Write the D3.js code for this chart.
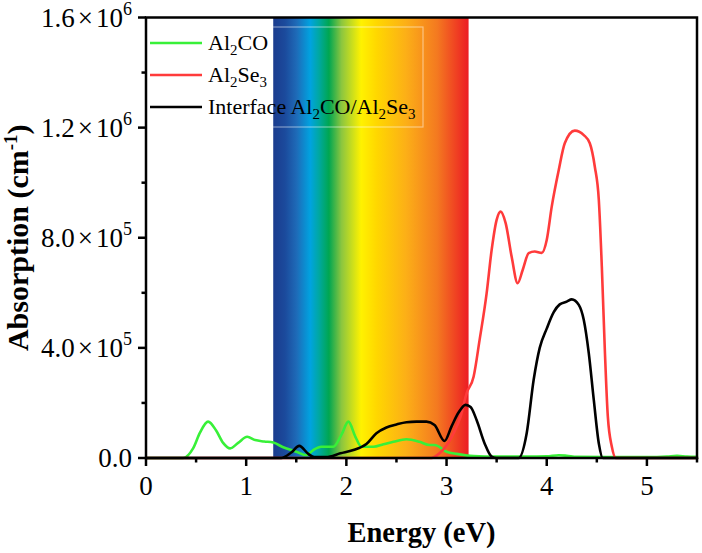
<!DOCTYPE html>
<html><head><meta charset="utf-8">
<script src="https://cdn.jsdelivr.net/npm/d3@7"></script>
<style>body{margin:0;background:#fff} svg{display:block}</style>
</head><body>
<svg id="c" width="702" height="553"></svg>
<script>
// ---- data (absorption in cm^-1, energy in eV) ----
const al2coEnergy = [0, 0.30, 0.37, 0.47, 0.54, 0.62, 0.70, 0.77, 0.84, 0.92, 1.01, 1.09, 1.18, 1.27, 1.37, 1.50, 1.60, 1.67, 1.75, 1.87, 1.95, 2.02, 2.09, 2.15, 2.27, 2.37, 2.47, 2.60, 2.73, 2.83, 2.88, 3.00, 3.10, 3.27, 3.50, 3.80, 4.00, 4.12, 4.20, 4.30, 4.60, 5.00, 5.20, 5.30, 5.40, 5.50];
const al2coAbs = [0, 0, 0, 0.35e5, 0.93e5, 1.32e5, 1.0e5, 0.55e5, 0.35e5, 0.55e5, 0.77e5, 0.65e5, 0.60e5, 0.56e5, 0.39e5, 0.23e5, 0.10e5, 0.29e5, 0.41e5, 0.41e5, 0.84e5, 1.32e5, 0.77e5, 0.41e5, 0.41e5, 0.50e5, 0.59e5, 0.68e5, 0.59e5, 0.47e5, 0.47e5, 0.23e5, 0.15e5, 0.07e5, 0.05e5, 0.05e5, 0.06e5, 0.10e5, 0.08e5, 0.04e5, 0.03e5, 0.03e5, 0.05e5, 0.08e5, 0.05e5, 0.04e5];

const al2se3Energy = [0, 2.85, 2.93, 3.00, 3.07, 3.14, 3.20, 3.27, 3.33, 3.40, 3.45, 3.50, 3.54, 3.59, 3.65, 3.71, 3.76, 3.82, 3.88, 3.95, 4.00, 4.05, 4.12, 4.18, 4.28, 4.37, 4.43, 4.48, 4.52, 4.55, 4.58, 4.61, 4.65, 4.69, 5.50];
const al2se3Abs = [0, 0, 0.17e5, 0.45e5, 0.90e5, 1.50e5, 2.35e5, 2.95e5, 4.29e5, 5.98e5, 7.55e5, 8.65e5, 8.95e5, 8.53e5, 7.31e5, 6.35e5, 6.83e5, 7.44e5, 7.50e5, 7.45e5, 7.92e5, 9.13e5, 10.46e5, 11.43e5, 11.89e5, 11.73e5, 11.43e5, 10.58e5, 9.37e5, 6.95e5, 3.92e5, 1.50e5, 0.41e5, 0, 0];

const interfaceEnergy = [0, 1.35, 1.45, 1.53, 1.62, 1.68, 1.80, 1.94, 2.07, 2.20, 2.30, 2.40, 2.50, 2.60, 2.70, 2.80, 2.88, 2.98, 3.05, 3.12, 3.19, 3.24, 3.30, 3.38, 3.45, 3.50, 3.72, 3.80, 3.87, 3.93, 4.00, 4.07, 4.13, 4.20, 4.25, 4.32, 4.37, 4.42, 4.47, 4.52, 4.56, 5.50];
const interfaceAbs = [0, 0, 0.20e5, 0.44e5, 0.15e5, 0.03e5, 0.03e5, 0.17e5, 0.29e5, 0.51e5, 0.90e5, 1.11e5, 1.22e5, 1.30e5, 1.32e5, 1.32e5, 1.20e5, 0.62e5, 1.15e5, 1.65e5, 1.93e5, 1.85e5, 1.38e5, 0.53e5, 0.05e5, 0, 0, 0.90e5, 2.85e5, 4.00e5, 4.70e5, 5.30e5, 5.58e5, 5.68e5, 5.76e5, 5.56e5, 5.01e5, 3.80e5, 2.10e5, 0.53e5, 0, 0];

const seriesNames = ["Al2CO", "Al2Se3", "Interface Al2CO/Al2Se3"];
const seriesColors = ["#38f038", "#ff3b3b", "#000000"];

const xTicks = [0, 1, 2, 3, 4, 5];
const xMinorTicks = [0.5, 1.5, 2.5, 3.5, 4.5, 5.5];
const yTicks = [0, 4e5, 8e5, 1.2e6, 1.6e6];
const yMinorTicks = [2e5, 6e5, 1.0e6, 1.4e6];
const yTickMantissa = ["0.0", "4.0", "8.0", "1.2", "1.6"];
const yTickExponent = ["", "5", "5", "6", "6"];

const spectrumRange = [1.27, 3.22];
const spectrumStops = [
  [0.00, "#1b3c8e"], [0.06, "#1b4a9c"], [0.12, "#1e6bb8"], [0.19, "#00a3e0"],
  [0.235, "#00a8a0"], [0.285, "#00a651"], [0.35, "#8cc63f"], [0.45, "#fff200"],
  [0.53, "#ffd700"], [0.68, "#fcaf17"], [0.84, "#f47920"], [1.00, "#ec1c24"]
];

// ---- layout ----
const svg = d3.select("#c");
const L = 146, R = 697, T = 17.5, B = 458;
const x = d3.scaleLinear().domain([0, 5.5]).range([L, R]);
const y = d3.scaleLinear().domain([0, 1.6e6]).range([B, T]);
const serif = "'Liberation Serif','Times New Roman',Times,serif";

// spectrum gradient
const defs = svg.append("defs");
const grad = defs.append("linearGradient").attr("id", "spec")
  .attr("x1", "0%").attr("x2", "100%").attr("y1", "0%").attr("y2", "0%");
spectrumStops.forEach(s => grad.append("stop").attr("offset", s[0]).attr("stop-color", s[1]));
svg.append("rect").attr("x", x(spectrumRange[0])).attr("y", T)
  .attr("width", x(spectrumRange[1]) - x(spectrumRange[0])).attr("height", B - T)
  .attr("fill", "url(#spec)");

// legend frame (faint)
svg.append("rect").attr("x", 149).attr("y", 27).attr("width", 274).attr("height", 100)
  .attr("fill", "none").attr("stroke", "rgba(255,255,255,0.45)").attr("stroke-width", 1.2);

// lines
const line = d3.line().x(d => x(d[0])).y(d => y(d[1])).curve(d3.curveMonotoneX);
const series = [
  d3.zip(al2coEnergy, al2coAbs),
  d3.zip(al2se3Energy, al2se3Abs),
  d3.zip(interfaceEnergy, interfaceAbs)
];
series.forEach((s, i) => {
  svg.append("path").attr("d", line(s)).attr("fill", "none")
    .attr("stroke", seriesColors[i]).attr("stroke-width", 2.6)
    .attr("stroke-linejoin", "round").attr("stroke-linecap", "round");
});

// frame
svg.append("rect").attr("x", L).attr("y", T).attr("width", R - L).attr("height", B - T)
  .attr("fill", "none").attr("stroke", "#000").attr("stroke-width", 2.5);

// x ticks
const ax = svg.append("g");
xTicks.forEach(v => ax.append("line").attr("x1", x(v)).attr("x2", x(v)).attr("y1", B).attr("y2", B + 8)
  .attr("stroke", "#000").attr("stroke-width", 2.5));
xMinorTicks.forEach(v => ax.append("line").attr("x1", x(v)).attr("x2", x(v)).attr("y1", B).attr("y2", B + 4.5)
  .attr("stroke", "#000").attr("stroke-width", 2.5));
xTicks.forEach(v => ax.append("text").attr("x", x(v)).attr("y", 494.5).attr("text-anchor", "middle")
  .attr("font-family", serif).attr("font-size", 27).text(v));

// y ticks
yTicks.forEach(v => ax.append("line").attr("x1", L - 8).attr("x2", L).attr("y1", y(v)).attr("y2", y(v))
  .attr("stroke", "#000").attr("stroke-width", 2.5));
yMinorTicks.forEach(v => ax.append("line").attr("x1", L - 4.5).attr("x2", L).attr("y1", y(v)).attr("y2", y(v))
  .attr("stroke", "#000").attr("stroke-width", 2.5));
yTicks.forEach((v, i) => {
  const t = ax.append("text").attr("x", 132).attr("y", y(v) + 9).attr("text-anchor", "end")
    .attr("font-family", serif).attr("font-size", 27);
  t.append("tspan").text(yTickMantissa[i]);
  if (yTickExponent[i]) {
    t.append("tspan").attr("dx", 3).text("×");
    t.append("tspan").attr("dx", 3).text("10");
    t.append("tspan").attr("dy", -12).attr("font-size", 18).text(yTickExponent[i]);
  }
});

// axis titles
svg.append("text").attr("x", (L + R) / 2).attr("y", 541.5).attr("text-anchor", "middle")
  .attr("font-family", serif).attr("font-weight", "bold").attr("font-size", 28.5).text("Energy (eV)");
const yt = svg.append("text").attr("transform", `translate(28,${(T + B) / 2}) rotate(-90)`)
  .attr("text-anchor", "middle").attr("font-family", serif).attr("font-weight", "bold").attr("font-size", 30);
yt.append("tspan").text("Absorption (cm");
yt.append("tspan").attr("dy", -11).attr("font-size", 19).text("-1");
yt.append("tspan").attr("dy", 11).text(")");

// legend
function rich(t, str, size) {
  const parts = str.split(/(\d)/).filter(p => p.length);
  let sub = false;
  parts.forEach(p => {
    if (/^\d$/.test(p)) {
      t.append("tspan").attr("dy", sub ? 0 : 5).attr("font-size", size * 0.68).text(p);
      sub = true;
    } else {
      t.append("tspan").attr("dy", sub ? -5 : 0).text(p);
      sub = false;
    }
  });
}
const legY = [43, 75, 107];
seriesNames.forEach((n, i) => {
  svg.append("line").attr("x1", 150).attr("x2", 202).attr("y1", legY[i]).attr("y2", legY[i])
    .attr("stroke", seriesColors[i]).attr("stroke-width", 2.6);
  const t = svg.append("text").attr("x", 208).attr("y", legY[i] + 7)
    .attr("font-family", serif).attr("font-size", 22);
  rich(t, n, 22);
});
</script>
</body></html>
